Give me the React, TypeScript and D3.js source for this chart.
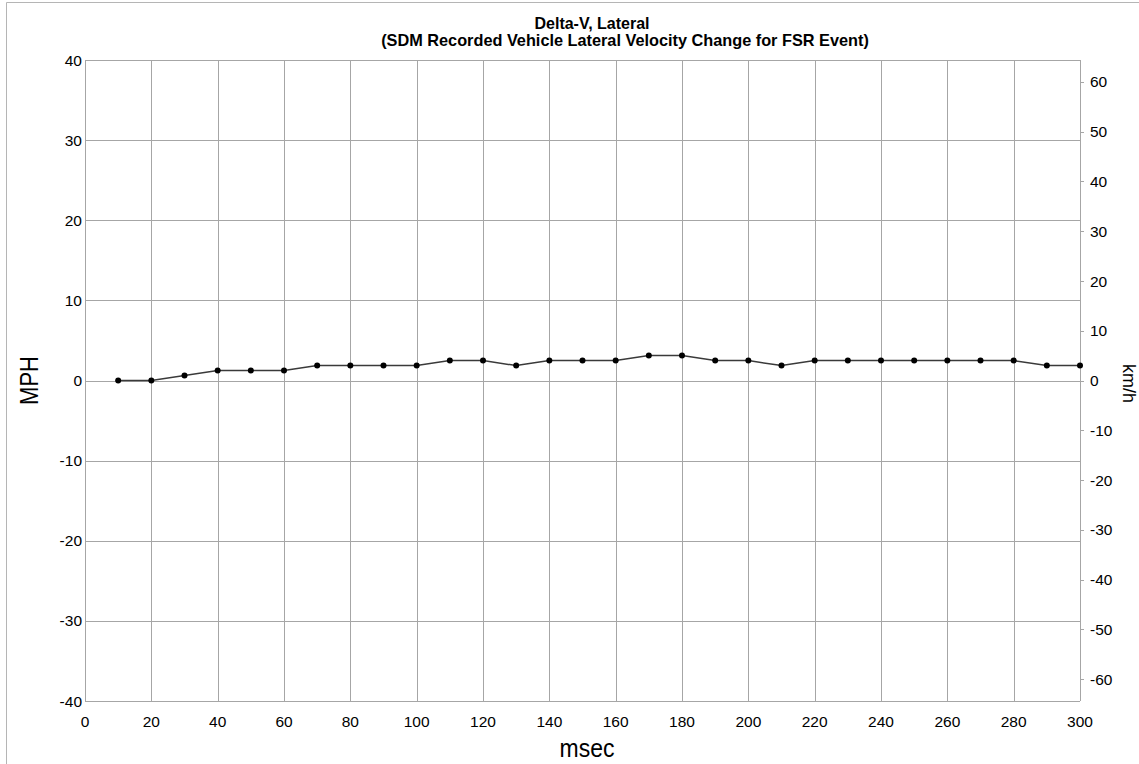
import React from 'react';
import * as d3 from 'd3';

// km/h samples recorded by the SDM, every 10 msec
const msec = [10, 20, 30, 40, 50, 60, 70, 80, 90, 100, 110, 120, 130, 140, 150, 160, 170, 180, 190, 200, 210, 220, 230, 240, 250, 260, 270, 280, 290, 300];
const kmh = [0, 0, 1, 2, 2, 2, 3, 3, 3, 3, 4, 4, 3, 4, 4, 4, 5, 5, 4, 4, 3, 4, 4, 4, 4, 4, 4, 4, 3, 3];
const mphTicks = [-40, -30, -20, -10, 0, 10, 20, 30, 40];
const kmhTicks = [-60, -50, -40, -30, -20, -10, 0, 10, 20, 30, 40, 50, 60];
const msecTicks = [0, 20, 40, 60, 80, 100, 120, 140, 160, 180, 200, 220, 240, 260, 280, 300];

const KMH_PER_MPH = 1.609344;

const W = 1139;
const H = 764;
const margin = { top: 60, right: 59, bottom: 63, left: 85 };

export default function App() {
  const x = d3.scaleLinear().domain([0, 300]).range([margin.left, W - margin.right]);
  const y = d3.scaleLinear().domain([-40, 40]).range([H - margin.bottom, margin.top]);
  const yKmh = d3
    .scaleLinear()
    .domain([-40 * KMH_PER_MPH, 40 * KMH_PER_MPH])
    .range([H - margin.bottom, margin.top]);

  const pts = msec.map((t, i) => ({ t, v: kmh[i] / KMH_PER_MPH }));
  const line = d3
    .line<{ t: number; v: number }>()
    .x(d => x(d.t))
    .y(d => y(d.v));

  const font = 'Arial, "Liberation Sans", Helvetica, sans-serif';
  const grid = '#a6a6a6';
  const x0 = x(0);
  const x1 = x(300);

  return (
    <svg width={W} height={H} style={{ position: 'absolute', left: 0, top: 0, fontFamily: font }}>
      <rect x={0} y={0} width={W} height={H} fill="#fff" />
      {/* outer frame */}
      <line x1={6.5} y1={2.5} x2={W} y2={2.5} stroke="#b5b5b5" />
      <line x1={6.5} y1={2.5} x2={6.5} y2={H} stroke="#b5b5b5" />

      <text x={592} y={29} textAnchor="middle" fontSize={16} fontWeight="bold">
        Delta-V, Lateral
      </text>
      <text x={625} y={46} textAnchor="middle" fontSize={16.3} fontWeight="bold">
        (SDM Recorded Vehicle Lateral Velocity Change for FSR Event)
      </text>

      {/* grid */}
      {mphTicks.map(t => (
        <line key={'h' + t} x1={x0} x2={x1} y1={Math.round(y(t)) + 0.5} y2={Math.round(y(t)) + 0.5} stroke={grid} />
      ))}
      {msecTicks.map(t => (
        <line key={'v' + t} x1={Math.round(x(t)) + 0.5} x2={Math.round(x(t)) + 0.5} y1={y(40)} y2={y(-40)} stroke={grid} />
      ))}

      {/* left axis labels */}
      {mphTicks.map(t => (
        <text key={'l' + t} x={x0 - 3} y={y(t)} dy="0.36em" textAnchor="end" fontSize={15.5}>
          {t}
        </text>
      ))}
      {/* right axis ticks + labels */}
      {kmhTicks.map(t => (
        <g key={'r' + t}>
          <line x1={x1} x2={x1 + 4} y1={Math.round(yKmh(t)) + 0.5} y2={Math.round(yKmh(t)) + 0.5} stroke={grid} />
          <text x={x1 + 10} y={yKmh(t)} dy="0.36em" textAnchor="start" fontSize={15.5}>
            {t}
          </text>
        </g>
      ))}
      {/* bottom labels */}
      {msecTicks.map(t => (
        <text key={'b' + t} x={x(t)} y={H - margin.bottom + 26} textAnchor="middle" fontSize={15.5}>
          {t}
        </text>
      ))}

      <text transform="translate(587,757) scale(1,1.12)" textAnchor="middle" fontSize={23}>
        msec
      </text>
      <text transform={`translate(38,${y(0)}) rotate(-90) scale(1,1.2)`} textAnchor="middle" fontSize={22}>
        MPH
      </text>
      <text transform={`translate(1123,${y(0) + 3}) rotate(90)`} textAnchor="middle" fontSize={18}>
        km/h
      </text>

      {/* series */}
      <path d={line(pts) || ''} fill="none" stroke="#3a3a3a" strokeWidth={1.5} />
      {pts.map(d => (
        <circle key={d.t} cx={x(d.t)} cy={y(d.v)} r={3} fill="#000" />
      ))}
    </svg>
  );
}
